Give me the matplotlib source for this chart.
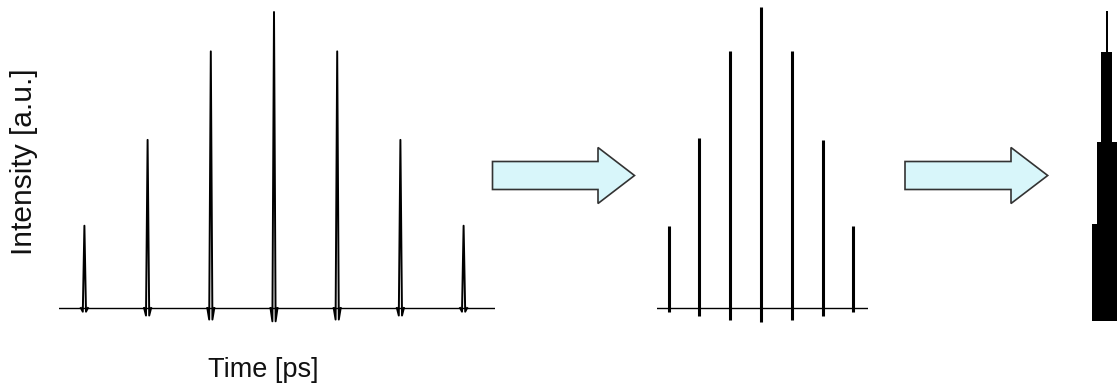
import matplotlib
matplotlib.use("Agg")
import matplotlib.pyplot as plt
from matplotlib.patches import FancyArrow

# ---------------- data ----------------
pulse_times = [-3, -2, -1, 0, 1, 2, 3]                      # pulse index / time [arb. ps]
stretched_heights = [0.278, 0.568, 0.867, 1.0, 0.867, 0.568, 0.278]
compressed_heights = [0.278, 0.573, 0.867, 1.017, 0.867, 0.568, 0.278]
merged_heights = [1.004, 0.865, 0.562, 0.284]                 # stacked merged pulse layers
merged_widths = [2.0, 10.5, 20.0, 29.0]                       # layer widths (px units)
xlabel_text = "Time [ps]"
ylabel_text = "Intensity [a.u.]"

# ---------------- layout helpers ----------------
W, H = 1117, 390
fig = plt.figure(figsize=(W / 100, H / 100), dpi=100)
BASE_PX = 308.0          # baseline (from top)
UNIT_PX = 296.0          # pixels per intensity unit
ylo = -(H - BASE_PX) / UNIT_PX
yhi = BASE_PX / UNIT_PX


def add_ax(x0, x1):
    ax = fig.add_axes([x0 / W, 0, (x1 - x0) / W, 1])
    ax.set_ylim(ylo, yhi)
    ax.axis("off")
    return ax


dip = 0.045  # relative undershoot below baseline

# ---- left: stretched pulse train ----
axL = add_ax(59, 495)
pxu_L = 63.2
axL.set_xlim(-215 / pxu_L, 221 / pxu_L)
axL.axhline(0, color="black", lw=1.0)
half = 3.5 / pxu_L
dx = 1.6 / pxu_L
for t, h in zip(pulse_times, stretched_heights):
    xs = [t - half, t - dx, t, t + dx, t + half]
    ys = [0, -dip * h, h, -dip * h, 0]
    axL.plot(xs, ys, color="black", lw=1.4, solid_joinstyle="round")

# ---- middle: compressed pulses ----
axM = add_ax(656.7, 868)
pxu_M = 30.8
axM.set_xlim(-104.3 / pxu_M, 107 / pxu_M)
axM.axhline(0, color="black", lw=1.0)
for t, h in zip(pulse_times, compressed_heights):
    axM.vlines(t, -dip * h, h, color="black", lw=2.2)

# ---- right: merged pulse ----
axR = add_ax(1080, 1117)
axR.set_xlim(1080 - 1106.7, 1117 - 1106.7)
for h, w in zip(merged_heights, merged_widths):
    axR.bar(0, h + 0.045, width=w, bottom=-0.045, color="black", linewidth=0)

# ---- arrows ----
def arrow(x_tail, x_tip, x_headbase):
    yc = (H - 175.5) / H
    a = FancyArrow(x_tail / W, yc, (x_tip - x_tail) / W, 0,
                   width=28 / H, head_width=56 / H,
                   head_length=(x_tip - x_headbase) / W,
                   length_includes_head=True, transform=fig.transFigure,
                   facecolor="#d8f6fa", edgecolor="#333333", lw=1.2)
    fig.patches.append(a)


arrow(492.5, 634.5, 598)
arrow(905, 1047.7, 1011)

# ---- labels ----
fig.text(24 / W, (H - 161.7) / H, ylabel_text, rotation=90, ha="center", va="center",
         fontsize=21.5, family="Liberation Sans", color="#111111")
fig.text(208 / W, (H - 377) / H, xlabel_text, ha="left", va="baseline",
         fontsize=19.5, family="Liberation Sans", color="#111111")

fig.savefig("out.png", dpi=100, facecolor="white")
